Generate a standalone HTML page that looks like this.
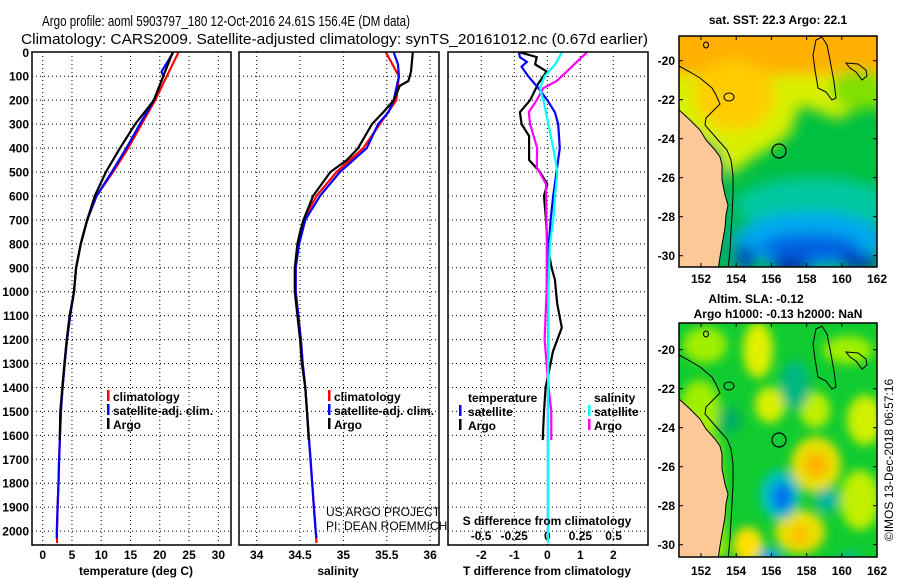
<!DOCTYPE html>
<html><head><meta charset="utf-8"><style>
html,body{margin:0;padding:0;background:#fff;}
svg{display:block;font-family:"Liberation Sans",sans-serif;}
.tk{font-size:12px;font-weight:bold;}
.lg{font-size:12px;font-weight:bold;}
</style></head><body>
<svg id="chart" width="900" height="580" viewBox="0 0 900 580">
<defs>
<filter id="bl" x="-20%" y="-20%" width="140%" height="140%"><feGaussianBlur stdDeviation="7"/></filter>
<filter id="bl2" x="-20%" y="-20%" width="140%" height="140%"><feGaussianBlur stdDeviation="5"/></filter>
<clipPath id="cm1"><rect x="679" y="36" width="198" height="231"/></clipPath>
<clipPath id="cm2"><rect x="679" y="323" width="198" height="234"/></clipPath>
<clipPath id="cp1"><rect x="32" y="52" width="199" height="493"/></clipPath>
<clipPath id="cp2"><rect x="239" y="52" width="200" height="493"/></clipPath>
<clipPath id="cp3"><rect x="448" y="52" width="200" height="493"/></clipPath>
</defs>
<text x="42" y="26" font-size="15" textLength="368" lengthAdjust="spacingAndGlyphs">Argo profile: aoml 5903797_180 12-Oct-2016 24.61S 156.4E (DM data)</text>
<text x="21" y="44" font-size="15" textLength="627" lengthAdjust="spacingAndGlyphs">Climatology: CARS2009. Satellite-adjusted climatology: synTS_20161012.nc (0.67d earlier)</text>

<g id="p1"></g>
<g id="p2"></g>
<g id="p3"></g>

<g>
<rect x="107" y="390" width="2.5" height="11" fill="#f00"/><text class="lg" x="113" y="401">climatology</text>
<rect x="107" y="404" width="2.5" height="11" fill="#00f"/><text class="lg" x="113" y="415">satellite-adj. clim.</text>
<rect x="107" y="418" width="2.5" height="11" fill="#000"/><text class="lg" x="113" y="429">Argo</text>
</g>
<g>
<rect x="328" y="390" width="2.5" height="11" fill="#f00"/><text class="lg" x="334" y="401">climatology</text>
<rect x="328" y="404" width="2.5" height="11" fill="#00f"/><text class="lg" x="334" y="415">satellite-adj. clim.</text>
<rect x="328" y="418" width="2.5" height="11" fill="#000"/><text class="lg" x="334" y="429">Argo</text>
</g>
<text x="326" y="516" font-size="12">US ARGO PROJECT</text>
<text x="326" y="530" font-size="12">PI: DEAN ROEMMICH</text>

<g id="p3top">
<text class="lg" x="468" y="402">temperature</text>
<rect x="459" y="405" width="2.5" height="11" fill="#00f"/><text class="lg" x="468" y="416">satellite</text>
<rect x="459" y="419" width="2.5" height="11" fill="#000"/><text class="lg" x="468" y="430">Argo</text>
<text class="lg" x="594" y="402">salinity</text>
<rect x="588" y="405" width="2.5" height="11" fill="#0ff"/><text class="lg" x="594" y="416">satellite</text>
<rect x="588" y="419" width="2.5" height="11" fill="#f0f"/><text class="lg" x="594" y="430">Argo</text>
<text class="tk" x="547" y="525" text-anchor="middle" font-size="13">S difference from climatology</text>
</g>

<text class="tk" x="136" y="575" text-anchor="middle" font-size="13">temperature (deg C)</text>
<text class="tk" x="338" y="575" text-anchor="middle" font-size="13">salinity</text>
<text class="tk" x="547" y="575" text-anchor="middle" font-size="13">T difference from climatology</text>

<text class="tk" x="778" y="24" text-anchor="middle" font-size="13">sat. SST: 22.3 Argo: 22.1</text>
<g clip-path="url(#cm1)">
<rect x="679" y="36" width="198" height="231" fill="#00c040"/>
<g filter="url(#bl)">
<polygon points="660,20 900,20 900,110 860,105 840,120 800,105 790,135 770,148 750,160 735,172 690,175 660,120" fill="#d8f000"/>
<rect x="660" y="20" width="240" height="55" fill="#ffb000"/>
<ellipse cx="735" cy="95" rx="40" ry="35" fill="#ffcc00"/>
<ellipse cx="860" cy="90" rx="30" ry="20" fill="#80e000"/>
<polygon points="679,125 720,150 730,200 740,267 679,267" fill="#00b060"/>
<ellipse cx="815" cy="205" rx="80" ry="28" fill="#00c8a0"/>
<ellipse cx="810" cy="240" rx="75" ry="28" fill="#00a8f0"/>
<ellipse cx="810" cy="248" rx="50" ry="14" fill="#0060e0"/>
<ellipse cx="790" cy="267" rx="20" ry="8" fill="#0020a0"/>
<ellipse cx="860" cy="262" rx="20" ry="8" fill="#0030b0"/>
<ellipse cx="745" cy="258" rx="10" ry="14" fill="#0040c0"/>
</g>
</g>
<g id="m1" clip-path="url(#cm1)"></g>
<rect x="679" y="36" width="198" height="231" fill="none" stroke="#000" stroke-width="1.5"/>

<text class="tk" x="756" y="303" text-anchor="middle" font-size="13">Altim. SLA: -0.12</text>
<text class="tk" x="778" y="318" text-anchor="middle" font-size="13">Argo h1000: -0.13 h2000: NaN</text>
<g clip-path="url(#cm2)">
<rect x="679" y="323" width="198" height="234" fill="#10cc30"/>
<g filter="url(#bl2)">
<ellipse cx="705" cy="345" rx="22" ry="18" fill="#a0ee00"/>
<ellipse cx="758" cy="350" rx="15" ry="28" fill="#e0f000"/>
<ellipse cx="700" cy="410" rx="20" ry="30" fill="#a0ee00"/>
<ellipse cx="770" cy="405" rx="15" ry="18" fill="#d8f000"/>
<ellipse cx="815" cy="410" rx="15" ry="18" fill="#c0f000"/>
<ellipse cx="865" cy="420" rx="18" ry="25" fill="#d0f000"/>
<ellipse cx="848" cy="350" rx="25" ry="14" fill="#a0ee00"/>
<ellipse cx="816" cy="465" rx="25" ry="28" fill="#e8e000"/>
<ellipse cx="816" cy="465" rx="12" ry="12" fill="#ffb000"/>
<ellipse cx="800" cy="532" rx="25" ry="22" fill="#e8e000"/>
<ellipse cx="800" cy="535" rx="10" ry="10" fill="#ffc000"/>
<ellipse cx="748" cy="545" rx="15" ry="18" fill="#ffe000"/>
<ellipse cx="860" cy="500" rx="20" ry="30" fill="#c0f000"/>
<ellipse cx="730" cy="420" rx="12" ry="14" fill="#00b060"/>
<ellipse cx="795" cy="385" rx="15" ry="25" fill="#00b880"/>
<ellipse cx="780" cy="495" rx="20" ry="25" fill="#00c0c0"/>
<ellipse cx="782" cy="497" rx="10" ry="14" fill="#0070f0"/>
<ellipse cx="827" cy="500" rx="12" ry="12" fill="#00b8a0"/>
<ellipse cx="770" cy="557" rx="12" ry="8" fill="#00a0f0"/>
<ellipse cx="850" cy="560" rx="10" ry="8" fill="#00c0a0"/>
<polygon points="679,410 720,440 726,557 679,557" fill="#b0f000"/>
</g>
</g>
<g id="m2" clip-path="url(#cm2)"></g>
<rect x="679" y="323" width="198" height="234" fill="none" stroke="#000" stroke-width="1.5"/>
<text x="893" y="460" font-size="12" text-anchor="middle" transform="rotate(-90 893 460)">©IMOS 13-Dec-2018 06:57:16</text>

<script>
const depthTicks=[0,100,200,300,400,500,600,700,800,900,1000,1100,1200,1300,1400,1500,1600,1700,1800,1900,2000];
const tempTicks=[0,5,10,15,20,25,30];
const salTicks=[34,34.5,35,35.5,36];
const salTickLabels=["34","34.5","35","35.5","36"];
const tdTicks=[-2,-1,0,1,2];
const sdTicks=[-0.5,-0.25,0,0.25,0.5];
const sdTickLabels=["-0.5","-0.25","0","0.25","0.5"];

const climDepth=[0,100,200,300,400,500,600,700,800,900,1000,1100,1200,1300,1400,1500,1600,1700,1800,1900,2000,2050];
const tClim=[23.2,21.2,19.2,16.9,14.6,12.0,9.2,7.6,6.5,5.7,5.35,4.7,4.15,3.75,3.4,3.1,2.95,2.8,2.7,2.55,2.45,2.45];
const sClim=[35.49,35.64,35.61,35.42,35.23,34.92,34.69,34.54,34.48,34.45,34.45,34.48,34.51,34.53,34.56,34.58,34.60,34.62,34.64,34.66,34.68,34.69];
const satDepth=[0,80,100,200,300,400,500,600,700,800,900,1000,1100,1200,1300,1400,1500,1600,1700,1800,1900,2000,2030];
const tSat=[22.3,20.3,20.6,19.0,16.6,14.3,11.8,9.2,7.6,6.5,5.7,5.35,4.7,4.15,3.75,3.4,3.1,2.95,2.8,2.7,2.55,2.4,2.4];
const sSatDepth=[0,50,100,150,200,250,300,400,500,600,700,800,900,1000,1100,1200,1300,1400,1500,1600,1700,1800,1900,2000,2030];
const sSat=[35.58,35.63,35.64,35.61,35.58,35.52,35.40,35.27,34.96,34.73,34.56,34.49,34.45,34.45,34.48,34.51,34.53,34.56,34.58,34.60,34.62,34.64,34.66,34.68,34.69];
const argoDepth=[0,100,200,300,400,500,600,700,800,900,1000,1100,1200,1300,1400,1500,1620];
const tArgo=[22.2,20.6,19.0,15.8,13.2,10.8,8.9,7.6,6.5,5.7,5.35,4.6,4.1,3.7,3.35,3.0,2.9];
const sArgoDepth=[0,80,120,140,200,250,300,400,450,500,550,600,700,750,800,900,1000,1100,1200,1300,1400,1500,1620];
const sArgo=[35.80,35.78,35.75,35.65,35.58,35.46,35.33,35.17,35.04,34.85,34.75,34.65,34.54,34.50,34.47,34.44,34.44,34.47,34.50,34.52,34.56,34.58,34.60];

const tdArgoDepth=[0,20,50,80,130,200,250,300,350,450,500,550,600,700,800,900,950,1050,1150,1250,1300,1400,1500,1620];
const tdArgo=[-0.83,-0.32,-0.37,-0.02,-0.27,-0.52,-0.83,-0.78,-0.55,-0.55,-0.22,0,-0.1,-0.04,0,0.13,0.23,0.3,0.44,0.17,0.1,-0.05,-0.1,-0.14];
const tdSatDepth=[0,20,40,60,100,150,200,250,300,400,500,600,700,800,1000,1500,2030];
const tdSat=[-0.86,-0.83,-0.62,-0.78,-0.58,-0.27,0,0.23,0.33,0.38,0.28,0.18,0.1,0.05,0.03,0.02,0.02];
const sdArgoDepth=[0,20,80,120,150,200,250,300,400,480,550,600,800,1000,1200,1400,1500,1620];
const sdArgo=[0.30,0.26,0.147,0.07,-0.03,-0.08,-0.14,-0.13,-0.076,-0.08,-0.01,-0.01,-0.004,-0.005,-0.02,0.01,0.03,0.03];
const sdSatDepth=[0,50,100,150,200,300,400,500,600,700,800,1000,1500,2050];
const sdSat=[0.11,0.06,-0.02,-0.055,-0.03,0.008,0.045,0.076,0.058,0.045,0.02,0.008,0.005,0.005];

const yD=d=>52.3+0.2394*d;
const xT=t=>42.7+5.855*t;
const xS=s=>256.7+86.7*(s-34);
const xTd=v=>547.3+33*v;
const xSd=v=>547.3+132.5*v;
const NS="http://www.w3.org/2000/svg";
function mk(tag,attrs,parent){const e=document.createElementNS(NS,tag);for(const k in attrs)e.setAttribute(k,attrs[k]);parent.appendChild(e);return e;}

function panel(g,x0,x1,vx){
  const grid=mk('g',{},g);
  
  
  mk('rect',{x:x0,y:52,width:x1-x0,height:493,fill:'#fff'},g);
  g.appendChild(grid);
  vx.forEach(x=>mk('line',{x1:x,x2:x,y1:52,y2:545,stroke:'#000','stroke-width':1,'stroke-dasharray':'1,3'},grid));
  depthTicks.forEach(d=>{if(d>0)mk('line',{x1:x0,x2:x1,y1:yD(d),y2:yD(d),stroke:'#000','stroke-width':1,'stroke-dasharray':'1,3'},grid);});
}
function frame(g,x0,x1){const r=mk('rect',{x:x0,y:52,width:x1-x0,height:493,fill:'none',stroke:'#000','stroke-width':1.5},g);

}
function line(g,ds,vs,xf,color,name,clip){
  const p=ds.map((d,i)=>xf(vs[i]).toFixed(1)+','+yD(d).toFixed(1)).join(' ');
  const e=mk('polyline',{points:p,fill:'none',stroke:color,'stroke-width':2.2,'clip-path':'url(#'+clip+')'},g);
  
  
}
function text(g,x,y,s,anchor,name){const t=mk('text',{x:x,y:y,'text-anchor':anchor,class:'tk'},g);t.textContent=s;

return t;}

const p1=document.getElementById('p1'),p2=document.getElementById('p2'),p3=document.getElementById('p3');
panel(p1,32,231,tempTicks.map(xT));
panel(p2,239,439,salTicks.map(xS));
panel(p3,448,648,tdTicks.map(xTd));
depthTicks.forEach(d=>text(p1,29,yD(d)+4.5,String(d),'end','depth-tick-label'));
tempTicks.forEach(t=>text(p1,xT(t),559,String(t),'middle','temperature-tick-label'));
salTicks.forEach((s,i)=>text(p2,xS(s),559,salTickLabels[i],'middle','salinity-tick-label'));
tdTicks.forEach(v=>text(p3,xTd(v),559,String(v),'middle','t-diff-tick-label'));
sdTicks.forEach((v,i)=>text(p3,xSd(v),540,sdTickLabels[i],'middle','s-diff-tick-label'));

line(p1,climDepth,tClim,xT,'#f00','temperature-climatology-line','cp1');
line(p1,satDepth,tSat,xT,'#00f','temperature-satellite-line','cp1');
line(p1,argoDepth,tArgo,xT,'#000','temperature-argo-line','cp1');
line(p2,climDepth,sClim,xS,'#f00','salinity-climatology-line','cp2');
line(p2,sSatDepth,sSat,xS,'#00f','salinity-satellite-line','cp2');
line(p2,sArgoDepth,sArgo,xS,'#000','salinity-argo-line','cp2');
line(p3,tdArgoDepth,tdArgo,xTd,'#000','t-diff-argo-line','cp3');
line(p3,tdSatDepth,tdSat,xTd,'#00f','t-diff-satellite-line','cp3');
line(p3,sdArgoDepth,sdArgo,xSd,'#f0f','s-diff-argo-line','cp3');
line(p3,sdSatDepth,sdSat,xSd,'#0ff','s-diff-satellite-line','cp3');
frame(p1,32,231);frame(p2,239,439);frame(p3,448,648);

const lonTicks=[152,154,156,158,160,162];
const latTicks=[-20,-22,-24,-26,-28,-30];
const xL=l=>701+17.6*(l-152);
const yLat1=l=>60.7-19.5*(l+20);
function mapDeco(gid,off,y0,y1,labY){
  const g=document.getElementById(gid);
  const c=mk('g',{transform:'translate(0,'+off+')'},g);
  const land=mk('polygon',{points:'679,110 690,120 700,130 706,140 715,150 720,157 722,165 722,180 725,195 728,205 726,215 725,228 722,245 720,257 718,270 660,270 660,110',fill:'#fcc898',stroke:'#000','stroke-width':1},c);
  
  
  mk('polyline',{points:'679,66 690,72 700,78 712,88 716,95 720,104 706,118 705,125 718,140 727,150 731,160 733,175 733,195 732,215 730,250 728,270',fill:'none',stroke:'#000','stroke-width':1},c);
  mk('path',{d:'M816,40 L822,37 L827,45 L830,60 L834,82 L836,98 L832,100 L826,92 L818,88 L815,70 L813,55 Z',fill:'none',stroke:'#000','stroke-width':1},c);
  mk('path',{d:'M846,63 L858,64 L866,70 L867,76 L862,80 L856,72 L850,68 Z',fill:'none',stroke:'#000','stroke-width':1},c);
  mk('ellipse',{cx:706,cy:45,rx:2.5,ry:3,fill:'none',stroke:'#000'},c);
  mk('ellipse',{cx:729,cy:97,rx:5,ry:4,fill:'none',stroke:'#000'},c);
  const pt=mk('circle',{cx:779,cy:151,r:7,fill:'none',stroke:'#000','stroke-width':1.2},c);
  
  
  const ax=document.getElementById('chart');
  lonTicks.forEach(l=>{const x=xL(l);
    mk('line',{x1:x,x2:x,y1:y0,y2:y0+4,stroke:'#000'},ax);mk('line',{x1:x,x2:x,y1:y1,y2:y1-4,stroke:'#000'},ax);
    text(ax,x,labY,String(l),'middle','longitude-tick-label');});
  latTicks.forEach(l=>{const y=yLat1(l)+off;
    mk('line',{x1:679,x2:683,y1:y,y2:y,stroke:'#000'},ax);mk('line',{x1:877,x2:873,y1:y,y2:y,stroke:'#000'},ax);
    text(ax,675,y+4.5,String(l),'end','latitude-tick-label');});
}
mapDeco('m1',0,36,267,283);
mapDeco('m2',289,323,557,575);
</script>
</svg>
</body></html>
